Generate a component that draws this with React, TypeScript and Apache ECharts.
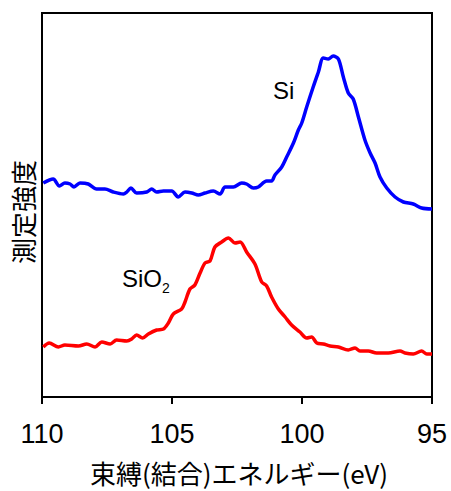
import React, { useEffect, useRef } from "react";
import * as echarts from "echarts";

// Binding energy (eV) and intensity (arbitrary units)
const siEnergy = [109.95, 109.57, 109.33, 109.12, 108.92, 108.77, 108.54, 108.22, 107.9, 107.58, 107.26, 106.87, 106.74, 106.58, 106.36, 105.97, 105.78, 105.59, 105.33, 105.01, 104.76, 104.5, 104.24, 103.99, 103.73, 103.41, 103.15, 102.96, 102.64, 102.32, 102.13, 101.87, 101.68, 101.36, 101.17, 101.04, 100.78, 100.59, 100.33, 100.14, 100.01, 99.82, 99.57, 99.37, 99.18, 98.99, 98.8, 98.6, 98.41, 98.22, 98.03, 97.83, 97.58, 97.38, 97.19, 97.0, 96.74, 96.42, 96.1, 95.72, 95.4, 95.0];
const siIntensity = [214, 218, 211, 214, 213, 210, 214, 213, 208, 208, 205, 203, 205, 209, 204, 205, 208, 205, 206, 206, 200, 205, 204, 202, 204, 206, 203, 210, 210, 214, 213, 209, 210, 216, 216, 222, 230, 240, 254, 267, 274, 290, 310, 325, 339, 338, 341, 338, 320, 304, 298, 280, 257, 244, 234, 220, 209, 200, 195, 193, 189, 188];

const sio2Energy = [109.95, 109.72, 109.37, 109.12, 108.6, 108.28, 107.96, 107.7, 107.38, 107.13, 106.74, 106.55, 106.36, 106.13, 105.91, 105.59, 105.33, 105.14, 104.95, 104.63, 104.5, 104.31, 104.12, 103.92, 103.73, 103.54, 103.35, 103.09, 102.83, 102.58, 102.38, 102.13, 101.81, 101.55, 101.36, 101.17, 100.91, 100.65, 100.4, 100.08, 99.82, 99.63, 99.43, 99.18, 98.92, 98.6, 98.22, 97.96, 97.77, 97.45, 97.13, 96.68, 96.23, 96.04, 95.72, 95.4, 95.2, 95.0];
const sio2Intensity = [50, 54, 50, 52, 51, 53, 50, 55, 53, 57, 56, 58, 62, 59, 63, 67, 68, 74, 83, 88, 95, 108, 112, 124, 134, 136, 150, 155, 159, 154, 155, 145, 133, 115, 111, 100, 88, 80, 72, 65, 59, 60, 54, 53, 51, 50, 47, 49, 46, 46, 44, 44, 46, 44, 43, 46, 43, 43];

const xTicks = [95, 100, 105, 110];
const xTitle = "束縛(結合)エネルギー(eV)";
const yTitle = "測定強度";
const siLabel = "Si";
const sio2Label = ["SiO", "2"];

function pairs(xs: number[], ys: number[]) {
  return xs.map((x, i) => [x, ys[i]]);
}

export default function App() {
  const ref = useRef<HTMLDivElement>(null);
  useEffect(() => {
    if (!ref.current) return;
    const chart = echarts.init(ref.current, null, { renderer: "svg" });
    const latin = "'Liberation Sans', Arial, sans-serif";
    const cjk = "'Noto Sans CJK JP', sans-serif";
    chart.setOption({
      animation: false,
      backgroundColor: "#ffffff",
      grid: {
        left: 42,
        right: 19,
        top: 13,
        bottom: 94,
        show: true,
        borderColor: "#000",
        borderWidth: 2,
        backgroundColor: "transparent",
      },
      xAxis: {
        type: "value",
        inverse: true,
        min: xTicks[0],
        max: xTicks[xTicks.length - 1],
        interval: 5,
        axisLine: { show: true, lineStyle: { color: "#000", width: 2 } },
        axisTick: { show: true, inside: false, length: 7, lineStyle: { color: "#000", width: 2 } },
        axisLabel: { show: true, color: "#000", fontSize: 27, fontFamily: latin, margin: 23 },
        splitLine: { show: false },
      },
      yAxis: {
        type: "value",
        min: 0,
        max: 384,
        axisLine: { show: true, lineStyle: { color: "#000", width: 2 } },
        axisTick: { show: false },
        axisLabel: { show: false },
        splitLine: { show: false },
      },
      series: [
        {
          type: "line",
          data: pairs(siEnergy, siIntensity),
          showSymbol: false,
          smooth: 0.3,
          lineStyle: { color: "#0000ff", width: 3.5 },
        },
        {
          type: "line",
          data: pairs(sio2Energy, sio2Intensity),
          showSymbol: false,
          smooth: 0.3,
          lineStyle: { color: "#ff0000", width: 3.5 },
        },
      ],
      graphic: [
        {
          type: "text",
          x: 239,
          y: 472,
          style: { text: xTitle, fontSize: 26, lineHeight: 26, fontFamily: cjk, fill: "#000", align: "center", verticalAlign: "middle" },
        },
        {
          type: "text",
          x: 22,
          y: 212,
          rotation: Math.PI / 2,
          style: { text: yTitle, fontSize: 26, fontFamily: cjk, fill: "#000", align: "center", verticalAlign: "middle" },
        },
        {
          type: "text",
          x: 273,
          y: 90,
          style: { text: siLabel, fontSize: 24, fontFamily: latin, fill: "#000", align: "left", verticalAlign: "middle" },
        },
        {
          type: "text",
          x: 122,
          y: 278,
          style: { text: sio2Label[0], fontSize: 24, fontFamily: latin, fill: "#000", align: "left", verticalAlign: "middle" },
        },
        {
          type: "text",
          x: 162,
          y: 288,
          style: { text: sio2Label[1], fontSize: 14, fontFamily: latin, fill: "#000", align: "left", verticalAlign: "middle" },
        },
      ],
    });
    return () => chart.dispose();
  }, []);
  return <div ref={ref} style={{ position: "fixed", left: 0, top: 0, width: 451, height: 491 }} />;
}
